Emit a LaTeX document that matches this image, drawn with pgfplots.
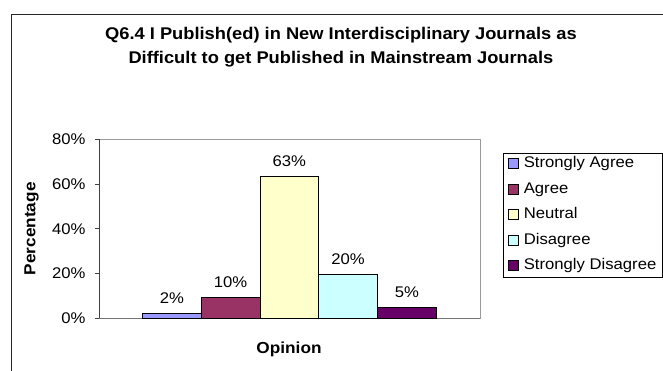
\documentclass[border=0pt]{standalone}
\usepackage{pgfplots}
\pgfplotsset{compat=1.18}
\usepackage{fontspec}
\setmainfont{Liberation Sans}[FakeStretch=1.08]
\definecolor{cSA}{RGB}{153,153,255}
\definecolor{cA}{RGB}{153,51,102}
\definecolor{cN}{RGB}{255,255,204}
\definecolor{cD}{RGB}{204,255,255}
\definecolor{cSD}{RGB}{102,0,102}
\newcommand{\fs}{\fontsize{15.5}{18}\selectfont}
\newcommand{\fb}{\bfseries\fontsize{16}{18}\selectfont}
\begin{document}
\begin{tikzpicture}[x=1bp,y=1bp]
\clip (-99,-51.7) rectangle (564,318.3);
\begin{axis}[
  at={(0,0)}, anchor=south west,
  scale only axis, width=381bp, height=179bp,
  xmin=-1.24, xmax=5.245, ymin=0, ymax=80,
  axis x line*=bottom, axis y line*=left,
  axis background/.style={draw=gray!80},
  x axis line style={draw=gray!90!black},
  y axis line style={draw=black!75},
  xtick=\empty,
  ytick={0,20,40,60,80},
  yticklabel={\pgfmathprintnumber{\tick}\%},
  /pgf/number format/assume math mode=true,
  tick align=outside, major tick length=4bp,
  tick style={black!75, line width=0.8bp},
  yticklabel style={font=\fs, xshift=-6bp},
  ybar, bar width=58.75bp,
  nodes near coords, point meta=explicit symbolic,
  every node near coord/.append style={font=\fs, yshift=6bp},
  every axis y label/.style={at={(axis description cs:-0.177,0.5)}, rotate=90, anchor=center},
  ylabel={\fb Percentage},
  every axis x label/.style={at={(axis description cs:0.4987,-0.173)}, anchor=center},
  xlabel={\fb Opinion},
  title style={at={(axis description cs:0.635,1.4816)}, anchor=center, align=center, font=\bfseries\fontsize{17}{23.6}\selectfont},
  title={Q6.4 I Publish(ed) in New Interdisciplinary Journals as\\Difficult to get Published in Mainstream Journals},
  legend style={at={(axis description cs:1.0604,0.926)}, anchor=north west, draw=black, font=\fs, row sep=4.5bp, inner xsep=5bp, inner ysep=0.5bp,
    nodes={text height=11.5bp, text depth=3.5bp, inner ysep=3bp, inner xsep=1bp}},
  legend cell align=left,
  legend image code/.code={\draw[#1, draw=black, line width=0.6bp] (0bp,-5bp) rectangle (10bp,5bp); \path (14bp,0bp);},
]
\addplot[fill=cSA, draw=black, line width=0.6bp, bar shift=0pt] coordinates {(0,2.2) [2\%]};
\addplot[fill=cA, draw=black, line width=0.6bp, bar shift=0pt] coordinates {(1,9.5) [10\%]};
\addplot[fill=cN, draw=black, line width=0.6bp, bar shift=0pt] coordinates {(2,63.5) [63\%]};
\addplot[fill=cD, draw=black, line width=0.6bp, bar shift=0pt] coordinates {(3,19.7) [20\%]};
\addplot[fill=cSD, draw=black, line width=0.6bp, bar shift=0pt] coordinates {(4,4.9) [5\%]};
\legend{Strongly Agree, Agree, Neutral, Disagree, Strongly Disagree}
\end{axis}
\draw[black!85, line width=1bp] (-87.7,-60) -- (-87.7,304) -- (580,304);
\end{tikzpicture}
\end{document}
